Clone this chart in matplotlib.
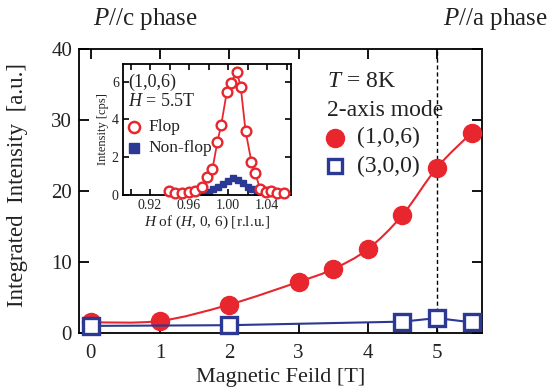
import numpy as np
import matplotlib
matplotlib.use("Agg")
import matplotlib.pyplot as plt
from matplotlib.path import Path
from matplotlib.patches import PathPatch

# ---- data ----
field_106 = [0, 1, 2, 3, 3.5, 4, 4.5, 5, 5.5]
int_106 = [1.5, 1.7, 4.0, 7.2, 9.0, 11.8, 16.6, 23.3, 28.2]
field_300 = [0, 2, 4.5, 5, 5.5]
int_300 = [1.0, 1.1, 1.6, 2.1, 1.5]

flop_h = [0.939, 0.946, 0.953, 0.960, 0.966, 0.973, 0.978, 0.984, 0.989, 0.993,
          0.9987, 1.003, 1.009, 1.013, 1.018, 1.024, 1.028, 1.033, 1.039, 1.044,
          1.050, 1.057]
flop_i = [0.23, 0.09, 0.12, 0.18, 0.23, 0.44, 0.97, 1.36, 2.79, 3.71,
          5.44, 5.95, 6.53, 5.74, 3.39, 1.76, 1.15, 0.30, 0.18, 0.23,
          0.12, 0.09]
nonflop_h = [0.975, 0.980, 0.985, 0.990, 0.995, 1.000, 1.005, 1.010, 1.015,
             1.020, 1.025, 1.030]
nonflop_i = [0.05, 0.15, 0.30, 0.45, 0.60, 0.75, 0.88, 0.80, 0.65, 0.45,
             0.30, 0.12]

x_ticks = [0, 1, 2, 3, 4, 5]
y_ticks = [0, 10, 20, 30, 40]
inset_xticks = [0.92, 0.96, 1.00, 1.04]
inset_yticks = [0, 2, 4, 6]

RED = "#e8262d"
BLUE = "#2b3894"
TXT = "#222222"
SERIF = ["Liberation Serif", "DejaVu Serif"]
plt.rcParams["font.family"] = SERIF
plt.rcParams["mathtext.fontset"] = "custom"
plt.rcParams["mathtext.it"] = "Liberation Serif:italic"
plt.rcParams["mathtext.rm"] = "Liberation Serif"


def smooth_path(xs, ys):
    """Catmull-Rom curve through the data points, as cubic Bezier segments."""
    xs = np.asarray(xs, float)
    ys = np.asarray(ys, float)
    pts = np.column_stack([xs, ys])
    n = len(pts)
    verts = [pts[0]]
    codes = [Path.MOVETO]
    for i in range(n - 1):
        p0 = pts[i - 1] if i > 0 else pts[i]
        p1 = pts[i]
        p2 = pts[i + 1]
        p3 = pts[i + 2] if i + 2 < n else pts[i + 1]
        c1 = p1 + (p2 - p0) / 6.0
        c2 = p2 - (p3 - p1) / 6.0
        verts += [c1, c2, p2]
        codes += [Path.CURVE4] * 3
    return Path(verts, codes)


fig = plt.figure(figsize=(5.55, 3.92), dpi=100)
ax = fig.add_axes([79 / 555, 59 / 392, 403 / 555, 284 / 392])

ax.add_patch(PathPatch(smooth_path(field_106, int_106), fill=False,
                       edgecolor=RED, lw=1.5, zorder=2))
ax.plot(field_106, int_106, ls="none", marker="o", ms=13, color=RED,
        mec=RED, zorder=3, clip_on=False)
ax.plot(field_300, int_300, color=BLUE, lw=1.5, marker="s", ms=11.5,
        mfc="white", mec=BLUE, mew=2.4, zorder=4, clip_on=False)
ax.axvline(5, color="black", ls=(0, (3, 2)), lw=1, zorder=1)

ax.set_xlim(-0.17, 5.65)
ax.set_ylim(0, 40)
ax.set_xticks(x_ticks)
ax.set_yticks(y_ticks)
ax.tick_params(direction="in", length=7, width=1.3, top=True, right=True,
               labelsize=15, labelcolor=TXT)
ax.tick_params(axis="x", pad=8)
ax.tick_params(axis="y", pad=5)
for s in ax.spines.values():
    s.set_linewidth(1.3)

fig.text(18 / 555, 0.528, "Integrated  Intensity  [a.u.]", rotation=90,
         ha="center", va="center", fontsize=16.5, color=TXT)
fig.text(0.505, 0.036, "Magnetic Feild [T]", ha="center", va="center",
         fontsize=16, color=TXT)
fig.text(93 / 555, 0.952, r"$P$//c phase", ha="left", va="center",
         fontsize=18, color=TXT)
fig.text(443 / 555, 0.952, r"$P$//a phase", ha="left", va="center",
         fontsize=18, color=TXT)

# main legend
ax.text(0.615, 0.884, r"$T$ = 8K", transform=ax.transAxes, ha="left",
        va="center", fontsize=17, color=TXT)
ax.text(0.615, 0.785, "2-axis mode", transform=ax.transAxes, ha="left",
        va="center", fontsize=17, color=TXT)
ax.plot([0.635], [0.687], transform=ax.transAxes, marker="o", ms=13,
        color=RED, ls="none", clip_on=False)
ax.text(0.69, 0.687, "(1,0,6)", transform=ax.transAxes, ha="left",
        va="center", fontsize=17, color=TXT)
ax.plot([0.635], [0.588], transform=ax.transAxes, marker="s", ms=10,
        mfc="white", mec=BLUE, mew=2.4, ls="none", clip_on=False)
ax.text(0.69, 0.588, "(3,0,0)", transform=ax.transAxes, ha="left",
        va="center", fontsize=17, color=TXT)

# ---- inset ----
ins = fig.add_axes([123 / 555, 197 / 392, 168 / 555, 131 / 392])
ins.plot(nonflop_h, nonflop_i, ls="none", marker="s", ms=4.5, color=BLUE,
         zorder=2)
ins.plot(flop_h, flop_i, color=RED, lw=1.3, marker="o", ms=7, mfc="white",
         mec=RED, mew=1.7, zorder=3, clip_on=False)
ins.set_xlim(0.8923, 1.0646)
ins.set_ylim(0, 6.94)
ins.set_xticks(inset_xticks)
ins.set_xticklabels(["0.92", "0.96", "1.00", "1.04"])
ins.set_xticks(np.arange(0.90, 1.061, 0.02), minor=True)
ins.set_yticks(inset_yticks)
ins.tick_params(which="both", direction="in", top=True, right=True,
                labelsize=10, pad=3, width=1.2, labelcolor=TXT)
ins.tick_params(which="major", length=4)
ins.tick_params(which="minor", length=4)
for s in ins.spines.values():
    s.set_linewidth(1.3)
ins.set_ylabel("Intensity [cps]", fontsize=9, labelpad=2, color=TXT)
ins.set_xlabel(r"$H$ of ($H$, 0, 6) [r.l.u.]", fontsize=11, labelpad=1,
               color=TXT)

ins.text(0.03, 0.863, "(1,0,6)", transform=ins.transAxes, ha="left",
         va="center", fontsize=13, color=TXT)
ins.text(0.03, 0.71, r"$H$ = 5.5T", transform=ins.transAxes, ha="left",
         va="center", fontsize=13, color=TXT)
ins.plot([0.065], [0.519], transform=ins.transAxes, marker="o", ms=8,
         mfc="white", mec=RED, mew=1.8, ls="none", clip_on=False)
ins.text(0.15, 0.519, "Flop", transform=ins.transAxes, ha="left",
         va="center", fontsize=12.5, color=TXT)
ins.plot([0.065], [0.359], transform=ins.transAxes, marker="s", ms=6.5,
         color=BLUE, ls="none", clip_on=False)
ins.text(0.15, 0.359, "Non-flop", transform=ins.transAxes, ha="left",
         va="center", fontsize=12.5, color=TXT)

fig.savefig("out.png", dpi=100)
